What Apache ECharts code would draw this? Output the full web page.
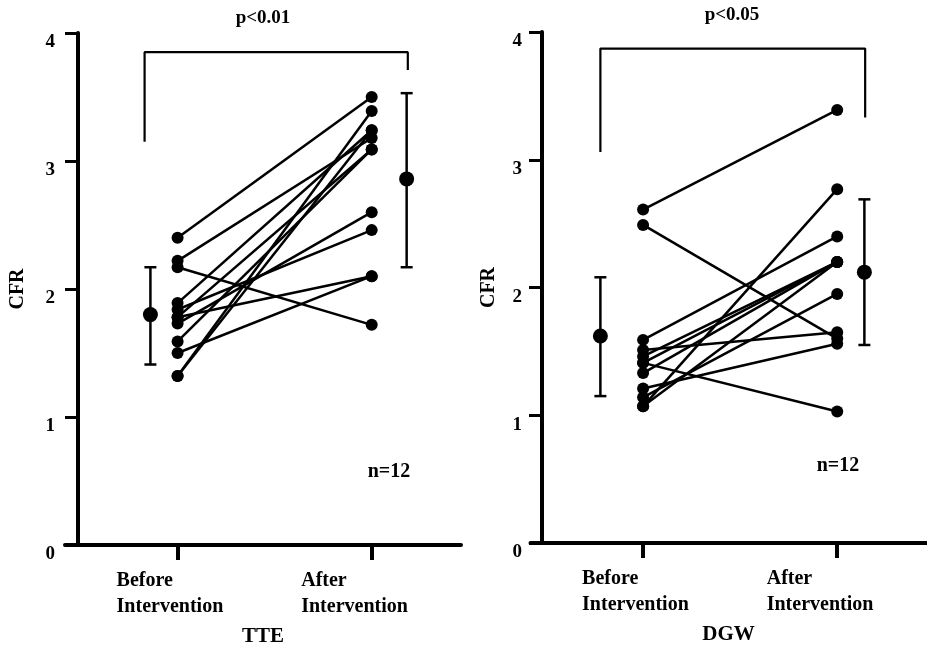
<!DOCTYPE html>
<html>
<head>
<meta charset="utf-8">
<script src="https://cdn.jsdelivr.net/npm/echarts@6/dist/echarts.min.js"></script>
<style>
  html, body { margin: 0; padding: 0; background: #fff; }
  #chart { width: 927px; height: 647px; }
</style>
</head>
<body>
<div id="chart"></div>
<script>
// categories on the x axis (placed at x = 1 and x = 2)
var categories = ['Before Intervention', 'After Intervention'];
var catX = [1, 2];
var yTicks = [0, 1, 2, 3, 4];

// TTE panel: one value pair per patient (n=12)
var tteBefore = [2.40, 2.22, 2.17, 1.89, 1.84, 1.78, 1.73, 1.59, 1.50, 1.32, 1.32, 1.78];
var tteAfter  = [3.50, 3.18, 1.72, 3.24, 2.46, 2.10, 2.60, 3.09, 2.10, 3.39, 3.24, 3.09];
// mean and error bar [x, low, mean, high]
var tteSummary = [[0.86, 1.41, 1.80, 2.17], [2.18, 2.17, 2.86, 3.53]];
// significance bracket [xLeft, legLeft, top, xRight, legRight]
var tteBracket = [0.83, 3.15, 3.85, 2.186, 3.71];

// DGW panel
var dgwBefore = [2.61, 2.49, 1.59, 1.51, 1.46, 1.41, 1.33, 1.21, 1.14, 1.07, 1.07, 1.41];
var dgwAfter  = [3.39, 1.60, 2.40, 1.65, 2.20, 1.03, 2.20, 1.56, 1.95, 2.77, 2.20, 2.20];
var dgwSummary = [[0.78, 1.15, 1.62, 2.08], [2.14, 1.55, 2.12, 2.69]];
var dgwBracket = [0.78, 3.06, 3.87, 2.144, 3.33];

var FONT = '"Liberation Serif", "Times New Roman", serif';

var panels = [
    {name: 'TTE', before: tteBefore, after: tteAfter, summary: tteSummary, bracket: tteBracket,
     grid: {left: 65, top: 33, width: 396, height: 512, outerBoundsMode: 'none'}, yOffset: -13, yNameGap: 50, yMargin: 23,
     pText: 'p<0.01', pPos: [263, 18], nPos: [389, 472]},
    {name: 'DGW', before: dgwBefore, after: dgwAfter, summary: dgwSummary, bracket: dgwBracket,
     grid: {left: 530.5, top: 32, width: 396, height: 511, outerBoundsMode: 'none'}, yOffset: -11.5, yNameGap: 43, yMargin: 20,
     pText: 'p<0.05', pPos: [732, 15], nPos: [838, 466]}
];

var grids = [], xAxes = [], yAxes = [], series = [], graphics = [];

panels.forEach(function (p, gi) {
    grids.push(p.grid);

    xAxes.push({
        gridIndex: gi,
        type: 'value',
        min: 0.42,
        max: 2.46,
        name: p.name,
        nameLocation: 'middle',
        nameGap: 81,
        nameTextStyle: {fontFamily: FONT, fontWeight: 'bold', fontSize: 21, color: '#000'},
        axisLine: {show: true, onZero: false, lineStyle: {color: '#000', width: 4}},
        axisTick: {show: true, customValues: catX, length: 15, lineStyle: {color: '#000', width: 4}},
        axisLabel: {
            customValues: catX,
            margin: 23,
            formatter: function (v) {
                var words = categories[catX.indexOf(v)].split(' ');
                var key = v === 1 ? 'b' : 'a';
                return '{' + key + '|' + words[0] + '}\n{' + key + '|' + words[1] + '}';
            },
            rich: {
                b: {width: 122, align: 'left', fontFamily: FONT, fontWeight: 'bold', fontSize: 20, lineHeight: 26, color: '#000'},
                a: {width: 141, align: 'left', fontFamily: FONT, fontWeight: 'bold', fontSize: 20, lineHeight: 26, color: '#000'}
            }
        },
        splitLine: {show: false}
    });

    yAxes.push({
        gridIndex: gi,
        type: 'value',
        min: yTicks[0],
        max: yTicks[yTicks.length - 1],
        interval: 1,
        offset: p.yOffset,
        name: 'CFR',
        nameLocation: 'middle',
        nameRotate: 90,
        nameGap: p.yNameGap,
        nameTextStyle: {fontFamily: FONT, fontWeight: 'bold', fontSize: 20, color: '#000'},
        axisLine: {show: true, onZero: false, lineStyle: {color: '#000', width: 4}},
        axisTick: {show: true, length: 13, lineStyle: {color: '#000', width: 3}},
        axisLabel: {margin: p.yMargin, verticalAlign: 'top', fontFamily: FONT, fontWeight: 'bold', fontSize: 19, color: '#000'},
        splitLine: {show: false}
    });

    // one line per patient
    p.before.forEach(function (b, i) {
        series.push({
            type: 'line',
            xAxisIndex: gi, yAxisIndex: gi,
            data: [[catX[0], b], [catX[1], p.after[i]]],
            symbol: 'circle',
            symbolSize: 12,
            itemStyle: {color: '#000', opacity: 1},
            lineStyle: {color: '#000', width: 2.5},
            silent: true,
            animation: false,
            z: 3
        });
    });

    // error bars
    series.push({
        type: 'custom',
        xAxisIndex: gi, yAxisIndex: gi,
        data: p.summary,
        animation: false,
        silent: true,
        renderItem: function (params, api) {
            var top = api.coord([api.value(0), api.value(3)]);
            var bot = api.coord([api.value(0), api.value(1)]);
            var st = {stroke: '#000', lineWidth: 2.5};
            var cap = 6;
            return {type: 'group', children: [
                {type: 'line', shape: {x1: top[0], y1: top[1], x2: bot[0], y2: bot[1]}, style: st},
                {type: 'line', shape: {x1: top[0] - cap, y1: top[1], x2: top[0] + cap, y2: top[1]}, style: st},
                {type: 'line', shape: {x1: bot[0] - cap, y1: bot[1], x2: bot[0] + cap, y2: bot[1]}, style: st}
            ]};
        }
    });

    // mean dots
    series.push({
        type: 'scatter',
        xAxisIndex: gi, yAxisIndex: gi,
        data: p.summary.map(function (s) { return [s[0], s[2]]; }),
        symbolSize: 15,
        itemStyle: {color: '#000', opacity: 1},
        silent: true,
        animation: false,
        z: 4
    });

    // significance bracket
    var br = p.bracket;
    series.push({
        type: 'line',
        xAxisIndex: gi, yAxisIndex: gi,
        data: [[br[0], br[1]], [br[0], br[2]], [br[3], br[2]], [br[3], br[4]]],
        symbol: 'none',
        lineStyle: {color: '#000', width: 2.2},
        silent: true,
        animation: false
    });

    graphics.push({
        type: 'text', x: p.pPos[0], y: p.pPos[1],
        style: {text: p.pText, fill: '#000', font: 'bold 19px ' + FONT, textAlign: 'center', textVerticalAlign: 'middle'}
    });
    graphics.push({
        type: 'text', x: p.nPos[0], y: p.nPos[1],
        style: {text: 'n=12', fill: '#000', font: 'bold 20px ' + FONT, textAlign: 'center', textVerticalAlign: 'middle'}
    });
});

var myChart = echarts.init(document.getElementById('chart'), null, {renderer: 'canvas'});
myChart.setOption({
    backgroundColor: '#fff',
    animation: false,
    grid: grids,
    xAxis: xAxes,
    yAxis: yAxes,
    series: series,
    graphic: graphics
});
</script>
</body>
</html>
